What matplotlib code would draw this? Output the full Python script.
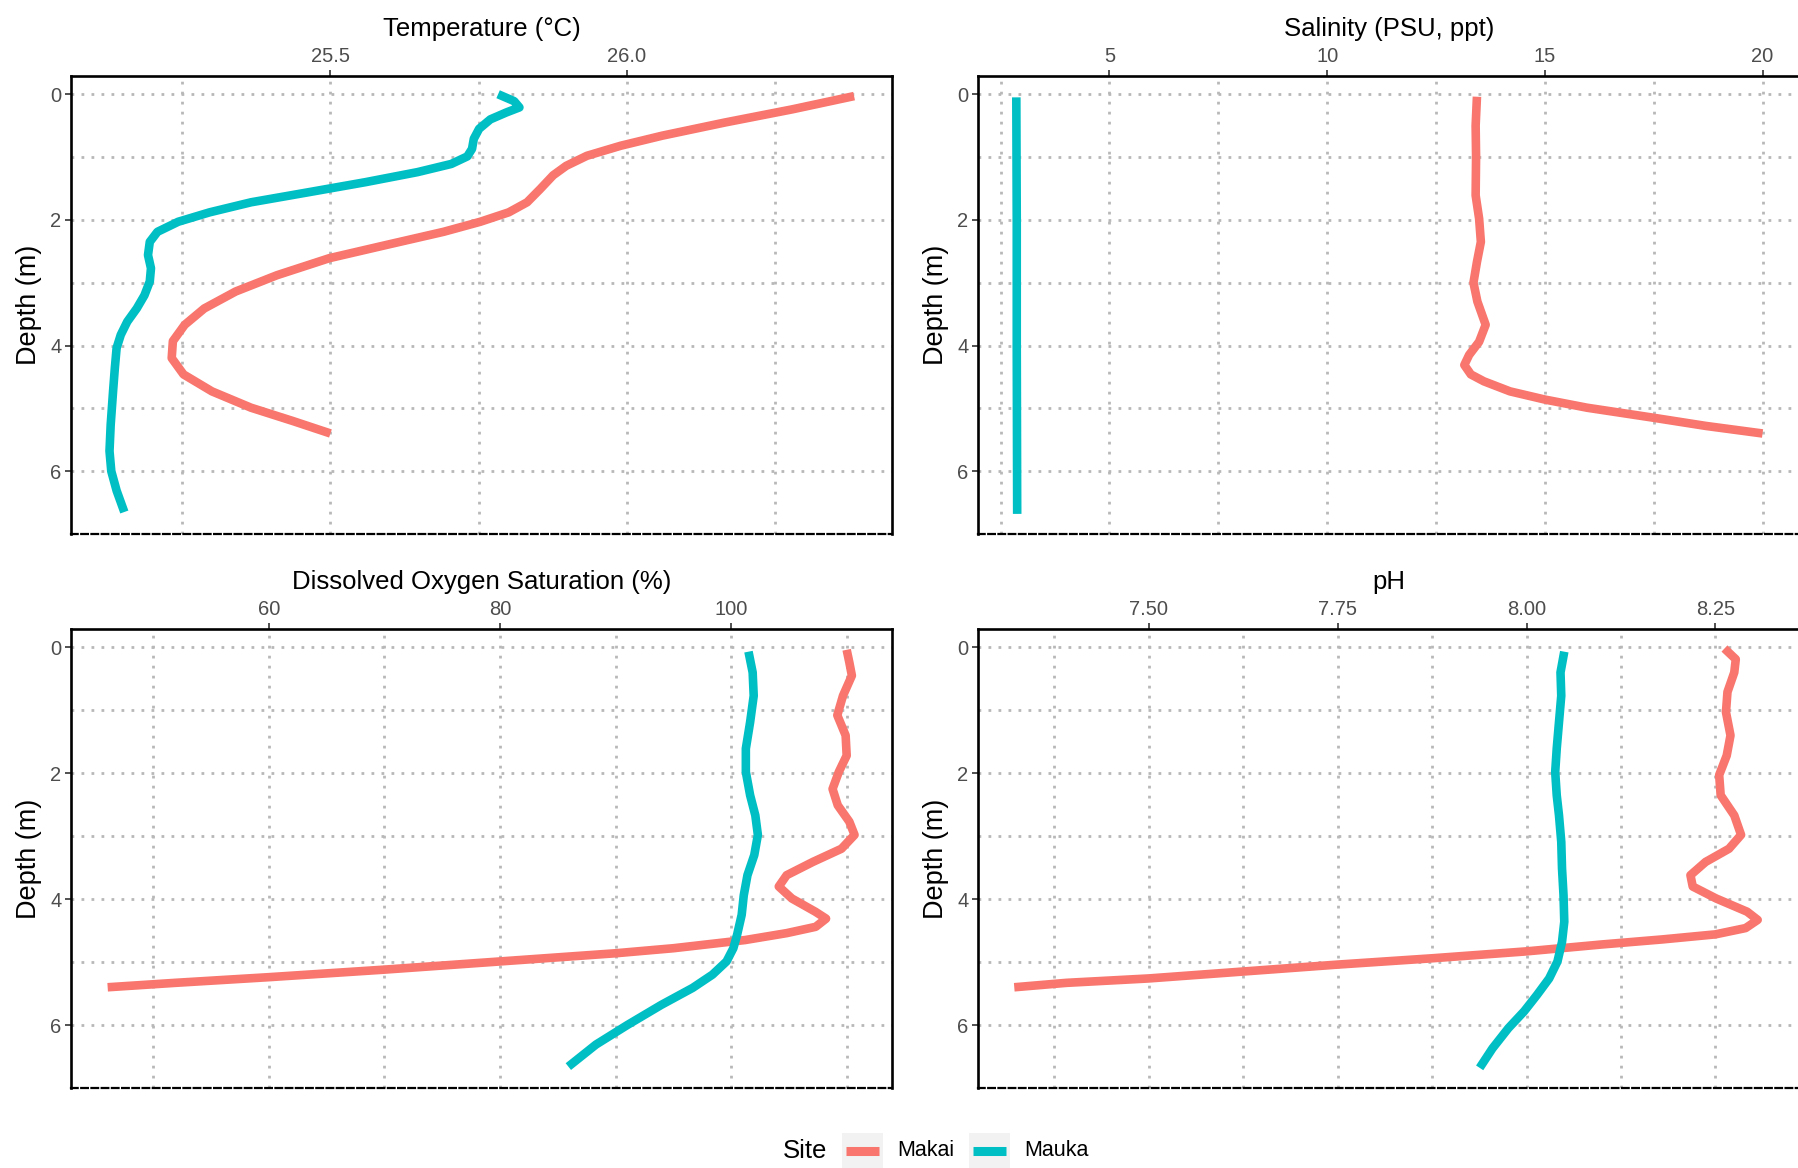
import matplotlib
matplotlib.use('Agg')
import matplotlib.pyplot as plt
from matplotlib.patches import Rectangle
from matplotlib.lines import Line2D

plt.rcParams['font.family'] = ['Liberation Sans', 'DejaVu Sans']

# Site colours (ggplot defaults)
sites = ['Makai', 'Mauka']
site_colors = {'Makai': '#F8766D', 'Mauka': '#00BFC4'}

# Temperature profiles
makai_temp_depth = [0.03, 0.24, 0.45, 0.66, 0.82, 0.98, 1.14, 1.29, 1.51, 1.72, 1.88, 2.03,
                    2.19, 2.40, 2.61, 2.88, 3.14, 3.41, 3.67, 3.93, 4.20, 4.46, 4.73, 4.99,
                    5.20, 5.40]
makai_temp = [26.384, 26.280, 26.166, 26.060, 25.990, 25.933, 25.898, 25.876, 25.854,
              25.832, 25.801, 25.753, 25.691, 25.594, 25.498, 25.410, 25.340, 25.287,
              25.254, 25.234, 25.232, 25.252, 25.300, 25.366, 25.436, 25.500]
mauka_temp_depth = [0.0, 0.11, 0.21, 0.29, 0.40, 0.55, 0.71, 0.87, 0.99, 1.11, 1.24, 1.40,
                    1.56, 1.72, 1.88, 2.03, 2.19, 2.35, 2.56, 2.77, 2.98, 3.20, 3.41, 3.62,
                    3.83, 4.04, 4.36, 4.73, 5.26, 5.68, 6.0, 6.31, 6.65]
mauka_temp = [25.783, 25.810, 25.819, 25.797, 25.770, 25.751, 25.742, 25.739, 25.731,
              25.704, 25.647, 25.559, 25.463, 25.366, 25.296, 25.243, 25.208, 25.195,
              25.192, 25.197, 25.195, 25.186, 25.173, 25.157, 25.146, 25.139, 25.136,
              25.133, 25.129, 25.127, 25.130, 25.139, 25.152]

# Salinity profiles
makai_sal_depth = [0.04, 0.50, 0.99, 1.61, 1.98, 2.35, 2.67, 3.0, 3.30, 3.67, 3.94, 4.15,
                   4.31, 4.46, 4.57, 4.73, 4.86, 4.99, 5.15, 5.28, 5.40]
makai_sal = [13.44, 13.41, 13.42, 13.41, 13.49, 13.53, 13.44, 13.36, 13.45, 13.64, 13.49,
             13.26, 13.15, 13.30, 13.60, 14.20, 15.0, 15.97, 17.5, 18.7, 20.0]
mauka_sal_depth = [0.05, 2.0, 4.0, 6.68]
mauka_sal = [2.86, 2.87, 2.87, 2.88]

# Dissolved oxygen profiles
makai_do_depth = [0.04, 0.24, 0.45, 0.77, 1.08, 1.40, 1.72, 1.98, 2.25, 2.51, 2.77, 2.98,
                  3.20, 3.41, 3.62, 3.80, 3.99, 4.20, 4.31, 4.44, 4.54, 4.65, 4.78, 4.86,
                  4.99, 5.12, 5.24, 5.33, 5.40]
makai_do = [109.98, 110.21, 110.43, 109.66, 109.17, 109.89, 109.98, 109.30, 108.76,
            109.21, 110.21, 110.66, 109.53, 107.05, 104.79, 104.11, 105.24, 107.27,
            108.2, 107.3, 104.8, 101.2, 95.0, 90.0, 80.0, 70.0, 60.0, 51.9, 46.07]
mauka_do_depth = [0.07, 0.40, 0.77, 1.19, 1.61, 1.98, 2.35, 2.67, 2.98, 3.30, 3.62, 3.94,
                  4.25, 4.57, 4.78, 4.99, 5.20, 5.41, 5.68, 6.0, 6.31, 6.66]
mauka_do = [101.49, 101.85, 101.94, 101.63, 101.26, 101.26, 101.63, 102.08, 102.30,
            101.99, 101.40, 101.08, 100.90, 100.50, 100.18, 99.59, 98.37, 96.66, 93.95,
            91.01, 88.30, 85.91]

# pH profiles
makai_ph_depth = [0.02, 0.19, 0.40, 0.71, 1.03, 1.40, 1.72, 2.03, 2.35, 2.67, 2.98, 3.20,
                  3.41, 3.62, 3.80, 3.99, 4.20, 4.33, 4.46, 4.56, 4.64, 4.72, 4.83, 4.94,
                  5.04, 5.15, 5.26, 5.33, 5.40]
makai_ph = [8.262, 8.277, 8.275, 8.266, 8.264, 8.270, 8.265, 8.255, 8.257, 8.275, 8.284,
            8.268, 8.237, 8.217, 8.220, 8.251, 8.292, 8.306, 8.290, 8.250, 8.180, 8.100,
            8.0, 7.875, 7.75, 7.625, 7.5, 7.391, 7.322]
mauka_ph_depth = [0.07, 0.40, 0.77, 1.19, 1.61, 1.98, 2.35, 2.67, 3.09, 3.51, 3.94, 4.36,
                  4.68, 4.99, 5.26, 5.52, 5.78, 6.05, 6.37, 6.68]
mauka_ph = [8.050, 8.045, 8.046, 8.043, 8.040, 8.038, 8.040, 8.043, 8.046, 8.047, 8.049,
            8.050, 8.047, 8.041, 8.030, 8.014, 7.997, 7.976, 7.955, 7.938]

depth_ticks = [0, 2, 4, 6]
depth_minor = [1, 3, 5]

W, H = 1798, 1168
fig = plt.figure(figsize=(W / 100, H / 100), dpi=100)


def px_box(left, top, right, bottom):
    return [left / W, 1 - bottom / H, (right - left) / W, (bottom - top) / H]


panels = [
    dict(box=px_box(71, 76, 892, 534), title='Temperature (\u00b0C)',
         xlim=(25.062, 26.448), major=[25.5, 26.0], minor=[25.25, 25.75, 26.25],
         fmt='{:.1f}',
         data={'Makai': (makai_temp, makai_temp_depth), 'Mauka': (mauka_temp, mauka_temp_depth)}),
    dict(box=px_box(978, 76, 1800, 534), title='Salinity (PSU, ppt)',
         xlim=(1.98, 20.86), major=[5, 10, 15, 20], minor=[2.5, 7.5, 12.5, 17.5],
         fmt='{:.0f}',
         data={'Makai': (makai_sal, makai_sal_depth), 'Mauka': (mauka_sal, mauka_sal_depth)}),
    dict(box=px_box(71, 629, 892, 1088), title='Dissolved Oxygen Saturation (%)',
         xlim=(42.9, 113.9), major=[60, 80, 100], minor=[50, 70, 90, 110],
         fmt='{:.0f}',
         data={'Makai': (makai_do, makai_do_depth), 'Mauka': (mauka_do, mauka_do_depth)}),
    dict(box=px_box(978, 629, 1800, 1088), title='pH',
         xlim=(7.274, 8.362), major=[7.5, 7.75, 8.0, 8.25], minor=[7.375, 7.625, 7.875, 8.125],
         fmt='{:.2f}',
         data={'Makai': (makai_ph, makai_ph_depth), 'Mauka': (mauka_ph, mauka_ph_depth)}),
]

grid_kw = dict(color='#b8b8b8', linewidth=2.0, linestyle=(0, (1.0, 2.6)), zorder=0)

for p in panels:
    ax = fig.add_axes(p['box'])
    ax.set_xlim(*p['xlim'])
    ax.set_ylim(7.0, -0.29)

    for x in p['major'] + p['minor']:
        ax.axvline(x, **grid_kw)
    for y in depth_ticks + depth_minor:
        ax.axhline(y, **grid_kw)

    for site in sites:
        vals, depth = p['data'][site]
        ax.plot(vals, depth, color=site_colors[site], linewidth=6.2,
                solid_joinstyle='round', solid_capstyle='butt', zorder=3)

    ax.xaxis.tick_top()
    ax.xaxis.set_label_position('top')
    ax.set_xticks(p['major'])
    ax.set_xticklabels([p['fmt'].format(v) for v in p['major']])
    ax.set_yticks(depth_ticks)
    ax.tick_params(axis='both', length=4, width=1.2, color='#333333',
                   labelcolor='#4d4d4d', labelsize=14.5, pad=3)
    ax.set_xlabel(p['title'], fontsize=18.5, labelpad=8, color='black')
    ax.set_ylabel('Depth (m)', fontsize=19.5, labelpad=6, color='black')

    for side in ['top', 'left', 'right']:
        ax.spines[side].set_linewidth(1.9)
        ax.spines[side].set_color('black')
    ax.spines['bottom'].set_linewidth(1.6)
    ax.spines['bottom'].set_linestyle((0, (3, 1.6)))
    ax.spines['bottom'].set_color('black')

# Legend at the bottom
fig.text(805 / W, 1 - 1151 / H, 'Site', fontsize=18.5, ha='center', va='center')
key_left = [842, 969]
for site, kx in zip(sites, key_left):
    fig.patches.append(Rectangle((kx / W, 1 - 1168 / H), 41 / W, 35 / H,
                                 transform=fig.transFigure, facecolor='#f2f2f2',
                                 edgecolor='none'))
    fig.lines.append(Line2D([(kx + 4) / W, (kx + 37) / W], [1 - 1151 / H, 1 - 1151 / H],
                            transform=fig.transFigure, color=site_colors[site],
                            linewidth=6.5, solid_capstyle='butt'))
    fig.text((kx + 55) / W, 1 - 1151 / H, site, fontsize=15.5, ha='left', va='center')

fig.savefig('out.png', dpi=100)
